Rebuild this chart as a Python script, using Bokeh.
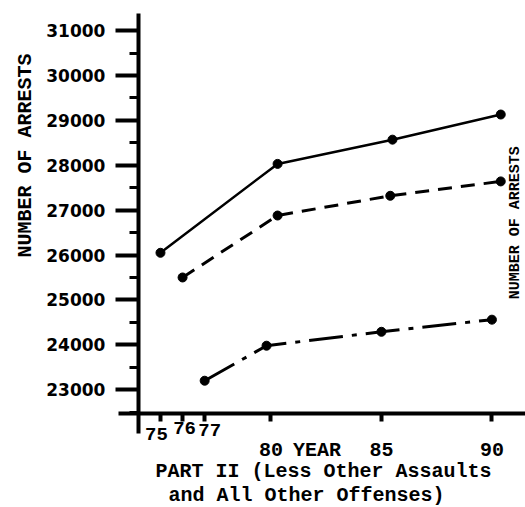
import math
from bokeh.plotting import figure
from bokeh.models import Label, SingleIntervalTicker, FixedTicker, Range1d, AllLabels
from bokeh.embed import file_html
from bokeh.resources import INLINE

# ---- data ----
solid_years = [75, 80.3, 85.5, 90.4]
solid_arrests = [26050, 28030, 28570, 29130]

dashed_years = [76, 80.3, 85.4, 90.4]
dashed_arrests = [25500, 26880, 27320, 27640]

dashdot_years = [77, 79.8, 85, 90]
dashdot_arrests = [23200, 23980, 24290, 24560]

x_ticks = [75, 76, 77, 80, 85, 90]
x_tick_labels = ["75", "76", "77", "80", "85", "90"]
y_title = "NUMBER OF ARRESTS"
x_title = "YEAR"
caption_lines = ["PART II (Less Other Assaults", "and All Other Offenses)"]

# ---- layout / style ----
# the frame covers the whole canvas; the axes are pinned inside it
X0, X1 = 67.76, 91.52
Y0, Y1 = 20376, 31670
X_AXIS_AT = 22470      # where the year axis crosses
Y_AXIS_AT = 74.0       # where the arrests axis crosses
MONO = "Liberation Mono"
INK = "#000000"

p = figure(width=525, height=507,
           x_range=Range1d(X0, X1), y_range=Range1d(Y0, Y1),
           output_backend="svg", toolbar_location=None,
           min_border_left=0, min_border_right=0,
           min_border_top=0, min_border_bottom=0)
p.outline_line_color = None
p.grid.visible = False
p.background_fill_color = "white"
p.border_fill_color = "white"

# y axis
ya = p.yaxis[0]
ya.fixed_location = Y_AXIS_AT
ya.bounds = (22024, 31380)
ya.ticker = SingleIntervalTicker(interval=1000, num_minor_ticks=2)
ya.axis_line_width = 4
ya.axis_line_color = INK
ya.major_tick_line_width = 4
ya.major_tick_line_color = INK
ya.major_tick_out = 23
ya.major_tick_in = 0
ya.minor_tick_line_width = 3
ya.minor_tick_line_color = INK
ya.minor_tick_out = 9
ya.minor_tick_in = 0
ya.major_label_standoff = 10
ya.major_label_text_font = "DejaVu Sans"
ya.major_label_text_font_style = "bold"
ya.major_label_text_font_size = "17px"
ya.major_label_text_color = INK

# x axis
xa = p.xaxis[0]
xa.fixed_location = X_AXIS_AT
xa.bounds = (73.1, X1)
xa.ticker = FixedTicker(ticks=x_ticks, minor_ticks=[])
overrides = {}
for t, lab in zip(x_ticks, x_tick_labels):
    overrides[t] = lab if t >= 80 else ""
xa.major_label_overrides = overrides
xa.major_label_policy = AllLabels()
xa.axis_line_width = 4
xa.axis_line_color = INK
xa.major_tick_line_width = 4
xa.major_tick_line_color = INK
xa.major_tick_out = 8
xa.major_tick_in = 0
xa.minor_tick_out = 0
xa.major_label_standoff = 22
xa.major_label_text_font = MONO
xa.major_label_text_font_style = "bold"
xa.major_label_text_font_size = "20px"
xa.major_label_text_color = INK

# series
p.line(solid_years, solid_arrests, line_width=2.5, line_color=INK)
p.scatter(solid_years, solid_arrests, size=9, color=INK)

p.line(dashed_years, dashed_arrests, line_width=3, line_color=INK, line_dash="14 9")
p.scatter(dashed_years, dashed_arrests, size=9, color=INK)

p.line(dashdot_years, dashdot_arrests, line_width=3, line_color=INK, line_dash="34 9 5 9")
p.scatter(dashdot_years, dashdot_arrests, size=9, color=INK)

# crowded early tick labels (75, 76, 77)
early_offsets = [(-4, -15), (2, -9), (5, -11)]
for (t, lab), (dx, dy) in zip(zip(x_ticks[:3], x_tick_labels[:3]), early_offsets):
    p.add_layout(Label(x=t, y=X_AXIS_AT, text=lab, x_offset=dx, y_offset=dy,
                       text_align="center", text_baseline="top",
                       text_font=MONO, text_font_style="bold",
                       text_font_size="19px", text_color=INK))

# "YEAR" between 80 and 85
p.add_layout(Label(x=82.08, y=X_AXIS_AT, text=x_title, y_offset=-26,
                   text_align="center", text_baseline="top",
                   text_font=MONO, text_font_style="bold",
                   text_font_size="20px", text_color=INK))

# caption lines
for i, (line, xs) in enumerate(zip(caption_lines, [74.77, 75.36])):
    p.add_layout(Label(x=xs, y=X_AXIS_AT, text=line, y_offset=-47 - 24 * i,
                       text_align="left", text_baseline="top",
                       text_font=MONO, text_font_style="bold",
                       text_font_size="20px", text_color=INK))

# left y title
p.add_layout(Label(x=68.87, y=28217, text=y_title, angle=math.pi / 2,
                   text_align="center", text_baseline="middle",
                   text_font=MONO, text_font_style="bold",
                   text_font_size="20px", text_color=INK))

# right y title of the neighbouring chart (kept fully inside the canvas)
p.add_layout(Label(x=91.06, y=26720, text=y_title, angle=math.pi / 2,
                   text_align="center", text_baseline="middle",
                   text_font=MONO, text_font_style="bold",
                   text_font_size="15px", text_color=INK))

open("out.html", "w").write(file_html(p, INLINE))
